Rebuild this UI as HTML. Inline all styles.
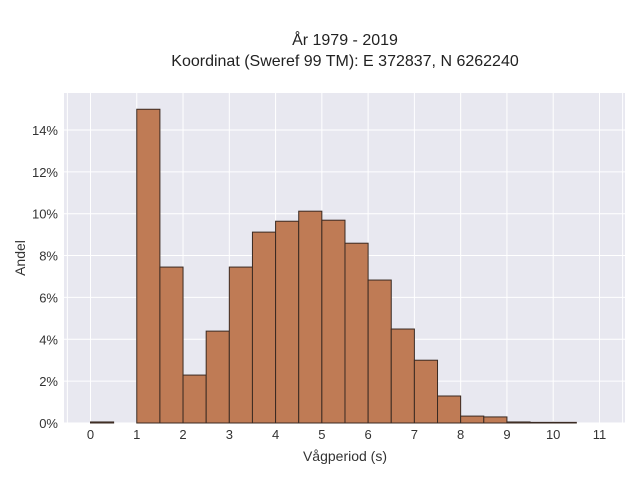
<!DOCTYPE html>
<html><head><meta charset="utf-8"><style>
body{margin:0;background:#fff;font-family:"Liberation Sans",sans-serif}
</style></head><body>
<svg width="640" height="480" xmlns="http://www.w3.org/2000/svg">
<rect x="0" y="0" width="640" height="480" fill="#fff"/>
<text x="345" y="45" text-anchor="middle" font-size="16" fill="#222">År 1979 - 2019</text>
<text x="345" y="66" text-anchor="middle" font-size="16" fill="#222">Koordinat (Sweref 99 TM): E 372837, N 6262240</text>
<rect x="64" y="93" width="561" height="330" fill="#e8e8f0"/>
<g id="grid"></g>
<g id="bars"></g>
<g id="ticks" font-size="13" fill="#333"></g>
<text x="345" y="461" text-anchor="middle" font-size="14" fill="#333">Vågperiod (s)</text>
<text x="25" y="258" text-anchor="middle" font-size="14" fill="#333" transform="rotate(-90 25 258)">Andel</text>
</svg>
<script>
const binStarts=[0,0.5,1,1.5,2,2.5,3,3.5,4,4.5,5,5.5,6,6.5,7,7.5,8,8.5,9,9.5,10];
const shares=[0.05,0,14.99,7.45,2.29,4.39,7.45,9.12,9.64,10.12,9.69,8.59,6.83,4.49,3.0,1.29,0.33,0.29,0.05,0.03,0.03];
const xTicks=[0,1,2,3,4,5,6,7,8,9,10,11];
const yTicks=[0,2,4,6,8,10,12,14];
const binWidth=0.5;
const NS="http://www.w3.org/2000/svg";
function xs(v){return 90.5+v*46.27;}
function ys(v){return 423-v*20.93;}
const grid=document.getElementById('grid'),bars=document.getElementById('bars'),ticks=document.getElementById('ticks');
function ln(x1,y1,x2,y2){const l=document.createElementNS(NS,'line');l.setAttribute('x1',x1);l.setAttribute('y1',y1);l.setAttribute('x2',x2);l.setAttribute('y2',y2);l.setAttribute('stroke','#fff');l.setAttribute('stroke-width','1');return l;}
[-0.5,...xTicks,11.5].forEach(v=>{const l=ln(xs(v),93,xs(v),423);


grid.appendChild(l);});
yTicks.forEach(v=>{const l=ln(64,ys(v),625,ys(v));


grid.appendChild(l);
const t=document.createElementNS(NS,'text');t.setAttribute('x',58);t.setAttribute('y',ys(v)+5);t.setAttribute('text-anchor','end');t.textContent=v+'%';


ticks.appendChild(t);});
xTicks.forEach(v=>{const t=document.createElementNS(NS,'text');t.setAttribute('x',xs(v));t.setAttribute('y',439);t.setAttribute('text-anchor','middle');t.textContent=v;


ticks.appendChild(t);});
binStarts.forEach((b,i)=>{if(shares[i]<=0)return;const r=document.createElementNS(NS,'rect');
const x0=xs(b),x1=xs(b+binWidth),y=ys(shares[i]);
r.setAttribute('x',x0);r.setAttribute('y',y);r.setAttribute('width',x1-x0);r.setAttribute('height',423-y);
r.setAttribute('fill','#bf7b55');r.setAttribute('stroke','#3a2a22');r.setAttribute('stroke-width','1');


bars.appendChild(r);});
</script>
</body></html>
